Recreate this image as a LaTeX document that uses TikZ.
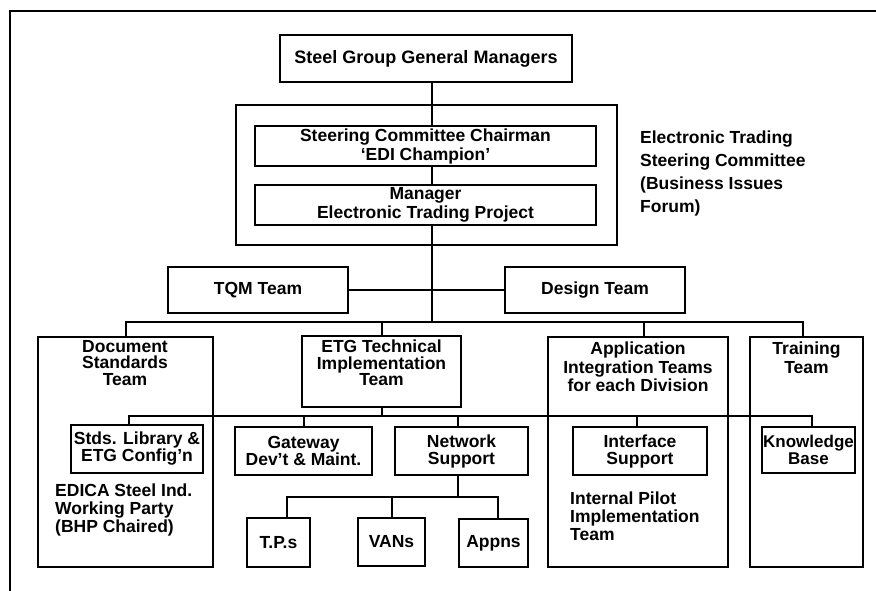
\documentclass[tikz,border=0pt]{standalone}
\usepackage{fontspec}
\setmainfont{Liberation Sans}
\usetikzlibrary{backgrounds}
\begin{document}
\begin{tikzpicture}[x=1pt,y=-1pt,
  every node/.style={font=\fontsize{17.5}{17}\selectfont\bfseries},
  orgbox/.style={draw, line width=2pt, fill=white, inner sep=0pt, align=center},
  groupbox/.style={draw, line width=2pt, inner sep=0pt},
  caption/.style={inner sep=0pt, align=center, anchor=north,
    font=\fontsize{17.5}{16.5}\selectfont\bfseries},
  note/.style={inner sep=0pt, align=left, anchor=north west},
  conn/.style={line width=2pt}]
\useasboundingbox (0,0) rectangle (876,591);

% page frame
\draw[line width=2.5pt] (876,11) -- (10,11) -- (10,591);

% top management
\node[orgbox, minimum width=292pt, minimum height=47pt,
  font=\fontsize{18}{18}\selectfont\bfseries] (gm) at (426,58.5)
  {Steel Group General Managers};

% steering committee group
\node[groupbox, minimum width=381pt, minimum height=140pt] (steer) at (426.5,175) {};
\node[orgbox, minimum width=341pt, minimum height=40pt,
  font=\fontsize{17.5}{19}\selectfont\bfseries] (chair) at (425.5,146)
  {Steering Committee Chairman\\`EDI Champion'};
\node[orgbox, minimum width=341pt, minimum height=40pt,
  font=\fontsize{17.5}{19}\selectfont\bfseries] (mgr) at (425.5,205)
  {Manager\\Electronic Trading Project};
\node[note, font=\fontsize{17.5}{23}\selectfont\bfseries] (etsc) at (640,131)
  {Electronic Trading\\Steering Committee\\(Business Issues\\Forum)};

% staff teams
\node[orgbox, minimum width=180pt, minimum height=46pt] (tqm) at (258,290) {TQM Team};
\node[orgbox, minimum width=180pt, minimum height=46pt] (design) at (595,290) {Design Team};

% line teams
\node[groupbox, minimum width=175pt, minimum height=230pt] (docstd) at (125.5,452) {};
\node[caption] (docstdtxt) at (125,340) {Document\\Standards\\Team};
\node[orgbox, minimum width=159pt, minimum height=71pt] (etg) at (381.5,371.5) {};
\node[caption] (etgtxt) at (381.5,340) {ETG Technical\\Implementation\\Team};
\node[groupbox, minimum width=180pt, minimum height=230pt] (app) at (638,452) {};
\node[caption, font=\fontsize{17.5}{18.5}\selectfont\bfseries] (apptxt) at (638,342)
  {Application\\Integration Teams\\for each Division};
\node[groupbox, minimum width=113pt, minimum height=230pt] (train) at (806.5,452) {};
\node[caption, font=\fontsize{17.5}{18.5}\selectfont\bfseries] (traintxt) at (806.5,342)
  {Training\\Team};

% sub-units
\node[orgbox, minimum width=132pt, minimum height=48pt] (stds) at (137,449)
  {Stds. Library \&\\ETG Config'n};
\node[orgbox, minimum width=137pt, minimum height=48pt] (gateway) at (303.5,451)
  {Gateway\\Dev't \& Maint.};
\node[orgbox, minimum width=133pt, minimum height=48pt] (network) at (461.5,451)
  {Network\\Support};
\node[orgbox, minimum width=134pt, minimum height=48pt] (iface) at (640,451)
  {Interface\\Support};
\node[orgbox, minimum width=93pt, minimum height=46pt,
  font=\fontsize{17}{17}\selectfont\bfseries] (know) at (808.5,450)
  {Knowledge\\Base};
\node[orgbox, minimum width=63pt, minimum height=49pt] (tps) at (278.5,542.5) {T.P.s};
\node[orgbox, minimum width=67pt, minimum height=48pt] (vans) at (391.5,542) {VANs};
\node[orgbox, minimum width=69pt, minimum height=48pt] (appns) at (493.5,543) {Appns};

% free-standing notes
\node[note, font=\fontsize{17.5}{18}\selectfont\bfseries] (edica) at (55,484)
  {EDICA Steel Ind.\\Working Party\\(BHP Chaired)};
\node[note, font=\fontsize{17.5}{18}\selectfont\bfseries] (pilot) at (570,492)
  {Internal Pilot\\Implementation\\Team};

% reporting lines
\begin{scope}[on background layer]
  \coordinate (bus1) at (432,322);
  \draw[conn] (gm.south -| bus1) -- (bus1);
  \draw[conn] (tqm.east) -- (design.west);
  \draw[conn] (docstd.north) |- (bus1) -| ([xshift=-3.5pt]train.north);
  \draw[conn] (etg.north) -- (etg.north |- bus1);
  \draw[conn] ([xshift=6pt]app.north) -- ([xshift=6pt]app.north |- bus1);

  \coordinate (bus2) at (384,416);
  \draw[conn] (etg.south) -- (etg.south |- bus2);
  \draw[conn] ([xshift=-8pt]stds.north) |- (bus2) -| ([xshift=3.5pt]know.north);
  \draw[conn] (gateway.north) -- (gateway.north |- bus2);
  \draw[conn] ([xshift=-3.5pt]network.north) -- ([xshift=-3.5pt]network.north |- bus2);
  \draw[conn] ([xshift=-3pt]iface.north) -- ([xshift=-3pt]iface.north |- bus2);

  \coordinate (bus3) at (458,497);
  \draw[conn] ([xshift=-3.5pt]network.south) -- (bus3);
  \draw[conn] ([xshift=8.5pt]tps.north) |- (bus3) -| ([xshift=4.5pt]appns.north);
  \draw[conn] (vans.north) -- (vans.north |- bus3);
\end{scope}
\end{tikzpicture}
\end{document}
